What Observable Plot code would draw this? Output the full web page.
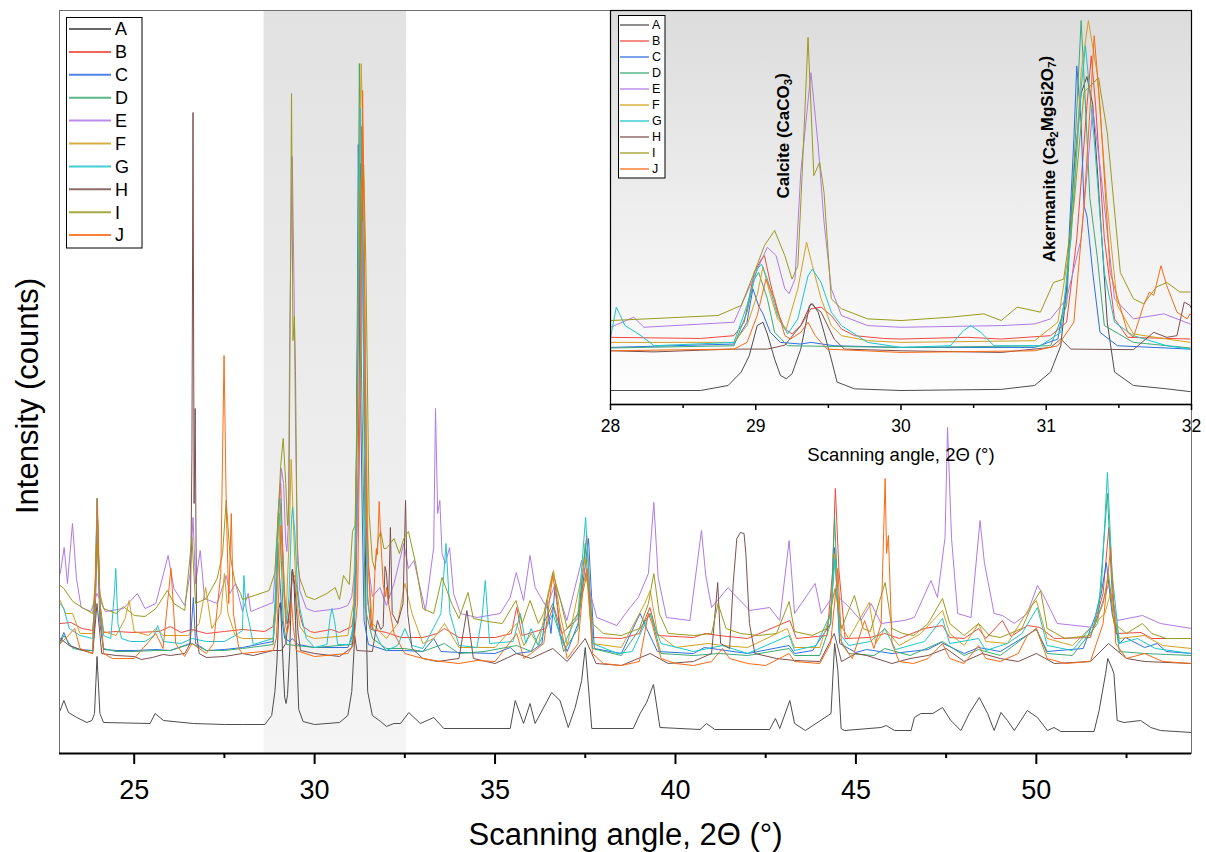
<!DOCTYPE html>
<html><head><meta charset="utf-8">
<script src="https://cdn.jsdelivr.net/npm/d3@7"></script>
<script src="https://cdn.jsdelivr.net/npm/@observablehq/plot@0.6"></script>
<style>
html,body{margin:0;padding:0;background:#fff;}
#wrap{position:relative;width:1206px;height:852px;overflow:hidden;font-family:"Liberation Sans",Arial,sans-serif;}
#wrap svg{position:absolute;left:0;top:0;}
</style></head><body>
<svg width="0" height="0" style="position:absolute"><defs>
<linearGradient id="shadeGrad" x1="0" y1="0" x2="0" y2="1"><stop offset="0" stop-color="#e2e2e2"/><stop offset="1" stop-color="#f5f5f5"/></linearGradient>
<linearGradient id="insetGrad" x1="0" y1="0" x2="0" y2="1"><stop offset="0" stop-color="#dcdcdc"/><stop offset="1" stop-color="#ffffff"/></linearGradient>
</defs></svg>
<div id="wrap"></div>
<script>
// ---------- data ----------
const names = ["A","B","C","D","E","F","G","H","I","J"];
const colors = ["#4d4d4d","#f04a3e","#2f6fe0","#3daa72","#b07ae6","#d4a020","#1cc6cc","#7d4f4f","#9a9a1e","#fb6a14"];
const xLabel = "Scanning angle, 2\u0398 (\u00b0)";
const yLabel = "Intensity (counts)";
const xDomain = [22.93, 54.3];
const yDomain = [0, 743];
const insetXDomain = [28, 32];
const insetYDomain = [4, 708];
const majorTicks = [25, 30, 35, 40, 45, 50];
const minorTicks = [27.5, 32.5, 37.5, 42.5, 47.5, 52.5];
const insetMajor = [28, 29, 30, 31, 32];
const insetMinor = [28.5, 29.5, 30.5, 31.5];
const shadeBands = [[28.6, 32.55]];
const annotations = [
  {label: "Calcite (CaCO_3)", x: 29.19, v: 372},
  {label: "Akermanite (Ca_2MgSi2O_7)", x: 31.02, v: 258}
];

const seriesA = [[22.95,43],[23.05,53],[23.18,41],[23.41,36],[23.69,31],[23.83,33],[23.90,40],[23.97,97],[24.05,40],[24.15,31],[25.44,30],[25.58,40],[25.81,33],[26.64,30],[27.5,29],[28.0,29],
[28.62,29],[28.81,38],[28.90,62],[28.955,91],[29.01,145],[29.05,151],[29.08,130],[29.13,85],[29.17,56],[29.21,50],[29.25,59],[29.31,103],[29.37,181],[29.39,184],[29.43,169],[29.47,133],[29.52,85],[29.56,44],[29.68,32],[30.0,29],[30.69,31],[30.92,38],[31.03,62],[31.10,109],[31.14,210],[31.19,419],[31.24,560],[31.28,590],[31.32,540],[31.35,430],[31.42,151],[31.47,62],[31.6,38],[31.83,32],[31.99,27],
[32.2,30],[32.38,30],[32.61,41],[32.93,30],[33.30,36],[33.58,25],[35.42,25],[35.56,53],[35.79,30],[35.97,50],[36.11,30],[36.57,61],[36.80,53],[37.03,26],[37.22,46],[37.40,73],[37.50,106],[37.68,25],[38.83,25],[39.02,40],[39.20,51],[39.39,69],[39.57,26],[40.68,24],[40.86,30],[41.09,24],[42.61,24],[42.77,35],[42.89,25],[43.17,53],[43.30,30],[43.6,23],[44.31,40],[44.41,110],[44.50,83],[44.59,25],[44.68,23],[45.70,26],[45.84,28],[46.07,23],[46.53,23],[46.62,36],[46.80,40],[47.13,40],[47.40,46],[47.63,33],[47.91,23],[48.14,40],[48.42,56],[48.65,40],[48.83,23],[49.02,41],[49.20,33],[49.39,23],[49.75,43],[50.03,36],[50.31,23],[50.49,26],[50.68,22],[51.60,22],[51.74,43],[51.92,80],[51.98,95],[52.10,85],[52.15,80],[52.24,33],[52.43,31],[52.89,33],[53.17,26],[53.44,23],[54.3,21]];

const seriesB = [[22.95,130],[23.25,131],[23.55,125],[23.85,123],[23.93,160],[23.98,240],[24.05,150],[24.15,121],[24.5,122],[25.0,121],[25.7,122],[26.0,127],[26.3,121],[26.6,124],[27.0,120],[27.5,122],[28.0,124],
[28.62,122],[28.85,127],[28.92,151],[28.99,240],[29.04,264],[29.06,270],[29.10,222],[29.15,169],[29.20,139],[29.25,130],[29.31,145],[29.38,175],[29.45,178],[29.52,163],[29.59,139],[29.68,127],[29.88,122],[30.0,121],[30.46,124],[30.69,121],[31.03,127],[31.14,151],[31.21,300],[31.28,538],[31.31,627],[31.34,538],[31.40,300],[31.47,157],[31.56,124],[31.99,121],
[32.4,116],[33.0,116],[33.4,120],[33.6,125],[34.0,116],[35.0,116],[35.45,120],[35.6,146],[35.75,118],[36.4,125],[36.62,148],[36.85,120],[37.3,135],[37.54,218],[37.7,116],[38.5,115],[39.0,120],[39.29,146],[39.5,118],[40.5,116],[40.82,120],[41.2,118],[42.0,115],[43.17,133],[43.35,115],[44.2,118],[44.35,180],[44.43,265],[44.53,183],[44.7,115],[45.4,116],[45.8,120],[46.2,115],[46.9,125],[47.4,128],[47.6,116],[48.0,115],[48.4,125],[48.6,115],[49.06,133],[49.3,117],[49.75,128],[50.1,126],[50.5,115],[51.5,116],[51.85,160],[52.01,226],[52.2,120],[52.9,121],[53.2,115],[54.3,115]];

const seriesC = [[22.95,112],[23.05,121],[23.2,108],[23.5,104],[23.85,103],[23.92,140],[23.97,230],[24.05,130],[24.15,104],[24.5,103],[25.0,103],[25.6,104],[26.0,103],[26.55,110],[26.64,156],[26.7,110],[27.0,103],[27.5,104],[28.0,106],
[28.85,112],[28.94,151],[28.98,211],[29.02,180],[29.05,166],[29.10,133],[29.17,115],[29.31,112],[29.38,115],[29.54,109],[30.0,106],[30.92,106],[31.08,121],[31.14,211],[31.19,478],[31.21,609],[31.24,508],[31.26,359],[31.28,341],[31.32,240],[31.37,133],[31.49,109],[31.99,103],
[32.5,103],[33.0,102],[33.3,115],[33.5,102],[34.0,101],[35.0,100],[35.42,106],[35.6,100],[36.0,102],[36.3,110],[36.43,153],[36.55,120],[36.67,170],[36.8,120],[37.0,102],[37.3,130],[37.59,215],[37.75,105],[38.5,100],[39.02,140],[39.2,125],[39.5,102],[40.5,100],[40.8,106],[41.2,104],[42.0,100],[43.15,108],[43.3,100],[43.8,103],[44.3,130],[44.41,206],[44.55,110],[45.0,101],[45.3,104],[46.0,100],[47.0,104],[47.36,111],[48.0,100],[48.4,106],[49.0,102],[50.0,124],[50.3,102],[51.3,105],[51.64,138],[51.8,160],[51.94,191],[52.1,140],[52.3,110],[52.47,116],[53.0,106],[53.35,110],[53.6,102],[54.3,100]];

const seriesD = [[22.95,110],[23.05,118],[23.3,105],[23.6,103],[23.85,103],[23.92,150],[23.97,255],[24.05,140],[24.15,105],[24.5,102],[25.0,102],[25.6,103],[26.0,103],[26.6,110],[27.0,103],[27.5,103],[28.0,105],
[28.85,109],[28.94,169],[28.99,228],[29.02,240],[29.08,193],[29.13,133],[29.22,109],[30.0,106],[31.03,109],[31.14,181],[31.20,478],[31.24,690],[31.27,538],[31.30,374],[31.35,270],[31.40,145],[31.6,115],[31.99,105],
[32.5,105],[33.0,102],[33.6,110],[34.0,100],[34.7,102],[35.6,108],[36.0,102],[36.6,150],[36.9,102],[37.3,125],[37.5,210],[37.7,105],[38.5,98],[39.3,140],[39.6,100],[40.5,98],[41.2,100],[42.0,98],[43.15,105],[43.3,98],[44.0,98],[44.3,130],[44.41,236],[44.55,115],[44.8,100],[45.5,98],[45.8,105],[46.5,98],[47.4,112],[48.0,98],[48.4,104],[49.0,98],[50.0,125],[50.3,100],[51.0,98],[51.7,130],[51.97,260],[52.1,160],[52.3,102],[53.0,100],[54.3,98]];

const seriesE = [[22.95,180],[23.06,206],[23.15,170],[23.29,230],[23.4,175],[23.53,146],[23.8,142],[23.97,160],[24.2,142],[24.7,145],[25.09,160],[25.3,145],[25.6,150],[25.94,198],[26.1,165],[26.4,148],[26.55,180],[26.63,236],[26.7,170],[26.83,203],[26.95,155],[27.3,150],[27.55,178],[27.65,160],[27.81,170],[28.0,142],
[28.16,160],[28.23,142],[28.85,151],[28.97,222],[29.08,285],[29.14,270],[29.20,211],[29.23,202],[29.27,228],[29.31,419],[29.38,597],[29.43,466],[29.47,330],[29.52,211],[29.59,163],[29.77,145],[30.0,142],[30.69,145],[30.92,148],[31.03,157],[31.14,193],[31.24,300],[31.32,532],[31.37,431],[31.47,193],[31.6,157],[31.81,166],[31.99,148],
[32.2,170],[32.47,210],[32.6,185],[32.75,193],[33.07,143],[33.30,206],[33.35,345],[33.41,240],[33.47,253],[33.53,200],[33.62,190],[33.74,206],[33.85,160],[34.04,140],[34.5,136],[35.14,140],[35.42,156],[35.59,181],[35.79,153],[35.97,198],[36.11,166],[36.43,146],[36.67,170],[36.99,133],[37.40,193],[37.54,173],[37.82,136],[38.37,128],[38.74,146],[38.97,156],[39.25,180],[39.40,251],[39.52,176],[39.75,136],[40.40,133],[40.72,223],[40.84,178],[41.0,146],[41.46,166],[41.6,160],[42.06,143],[42.61,146],[42.89,133],[43.15,213],[43.30,140],[43.87,170],[44.04,140],[44.41,160],[44.82,146],[45.14,133],[45.42,150],[45.7,130],[46.34,133],[46.62,136],[47.08,173],[47.26,156],[47.47,216],[47.54,326],[47.65,215],[47.82,140],[48.19,136],[48.44,233],[48.56,191],[48.83,140],[49.06,138],[49.39,130],[49.75,140],[50.03,168],[50.17,160],[50.58,130],[51.6,126],[52.01,170],[52.24,133],[52.94,138],[53.44,130],[54.3,125]];

const seriesF = [[22.95,153],[23.1,140],[23.29,140],[23.5,120],[23.85,120],[23.92,160],[23.98,240],[24.05,150],[24.15,122],[24.5,118],[24.75,135],[24.86,153],[25.0,122],[25.4,118],[25.6,125],[25.8,118],[26.5,118],[26.8,130],[26.98,166],[27.15,125],[27.4,140],[27.5,180],[27.6,140],[27.8,118],[28.0,115],
[28.85,115],[28.94,145],[29.01,200],[29.05,250],[29.10,200],[29.15,157],[29.21,139],[29.29,211],[29.35,294],[29.39,252],[29.45,193],[29.52,145],[29.59,127],[29.77,118],[30.0,115],[30.92,118],[31.08,151],[31.17,300],[31.24,597],[31.29,690],[31.35,597],[31.42,359],[31.49,181],[31.6,130],[31.83,121],[31.99,115],
[32.3,130],[32.5,170],[32.7,140],[33.0,110],[33.3,115],[33.6,130],[34.0,106],[35.0,106],[35.6,130],[35.8,108],[36.0,120],[36.2,108],[36.62,183],[36.8,140],[37.0,108],[37.5,195],[37.7,110],[38.5,106],[39.15,150],[39.3,163],[39.5,120],[40.0,106],[40.9,110],[41.3,108],[42.0,106],[43.1,125],[43.3,106],[44.0,106],[44.3,140],[44.42,200],[44.55,130],[44.8,115],[45.37,151],[45.55,110],[45.8,125],[46.2,108],[46.8,120],[47.4,143],[47.6,120],[48.0,108],[48.4,130],[48.6,112],[49.2,110],[49.8,145],[50.0,153],[50.3,115],[51.0,108],[51.9,140],[52.05,160],[52.3,115],[53.0,118],[53.5,108],[54.3,105]];

const seriesG = [[22.95,150],[23.05,145],[23.2,125],[23.5,118],[23.85,115],[23.92,170],[23.97,255],[24.05,150],[24.15,118],[24.35,115],[24.45,160],[24.49,185],[24.55,130],[24.65,115],[24.9,112],[25.3,112],[25.55,118],[25.65,128],[25.8,112],[26.3,110],[26.6,115],[27.0,112],[27.5,112],[27.8,118],[28.0,123],
[28.04,178],[28.1,145],[28.21,127],[28.30,109],[28.85,115],[28.94,181],[29.01,246],[29.04,255],[29.08,228],[29.15,163],[29.22,130],[29.29,157],[29.36,234],[29.39,246],[29.45,222],[29.52,169],[29.59,145],[29.77,115],[30.0,106],[30.34,109],[30.43,136],[30.48,145],[30.55,133],[30.64,109],[30.96,109],[31.10,133],[31.17,300],[31.24,568],[31.27,645],[31.33,478],[31.40,240],[31.47,151],[31.6,127],[31.83,109],[31.99,103],
[32.3,108],[32.5,125],[32.7,108],[33.0,105],[33.5,140],[33.64,210],[33.75,140],[34.0,108],[34.5,106],[34.65,140],[34.73,173],[34.85,110],[35.5,112],[35.7,140],[35.85,110],[36.0,125],[36.2,108],[36.6,140],[36.9,108],[37.3,140],[37.51,236],[37.7,110],[38.4,100],[38.8,102],[39.29,140],[39.6,110],[40.5,102],[41.3,108],[42.0,100],[43.15,118],[43.3,103],[43.9,108],[44.3,140],[44.42,195],[44.55,120],[44.8,108],[45.4,112],[45.8,125],[46.1,104],[46.9,112],[47.4,135],[47.6,110],[48.4,115],[48.6,103],[49.2,110],[49.6,120],[50.03,146],[50.3,108],[51.0,103],[51.6,130],[51.8,165],[51.97,281],[52.1,180],[52.3,110],[52.8,115],[53.3,105],[54.3,100]];

const seriesH = [[22.95,115],[23.2,108],[23.5,104],[23.85,100],[23.97,150],[24.1,100],[24.5,98],[25.0,97],[25.2,94],[25.5,96],[25.8,99],[26.0,98],[26.4,100],[26.55,110],[26.6,300],[26.63,641],[26.66,250],[26.69,345],[26.73,120],[26.8,100],[27.0,96],[27.5,97],[28.0,100],
[28.3,98],[28.62,101],[28.85,103],[29.08,103],[29.2,110],[29.31,145],[29.38,184],[29.45,169],[29.54,121],[29.61,103],[30.0,100],[30.69,97],[31.03,106],[31.10,121],[31.17,103],[31.6,102],[31.74,133],[31.83,124],[31.90,127],[31.95,187],[31.99,181],
[32.05,150],[32.1,226],[32.15,140],[32.3,130],[32.45,150],[32.52,253],[32.58,140],[32.7,105],[33.0,95],[33.4,92],[34.0,95],[34.22,143],[34.4,95],[35.0,90],[35.6,100],[36.0,95],[36.6,105],[37.0,92],[37.5,115],[37.8,90],[38.5,88],[39.3,100],[39.8,90],[40.5,92],[41.0,100],[41.17,171],[41.25,110],[41.5,105],[41.6,170],[41.7,215],[41.8,221],[41.9,220],[41.95,200],[42.05,130],[42.2,100],[42.8,95],[43.3,93],[44.0,92],[44.4,120],[44.6,92],[45.0,100],[45.3,98],[46.0,90],[46.5,95],[47.0,98],[47.5,105],[48.0,92],[48.5,100],[49.0,95],[49.5,92],[50.0,100],[50.5,90],[51.5,92],[52.0,110],[52.5,95],[53.0,92],[54.3,90]];

const seriesI = [[22.95,168],[23.05,165],[23.3,152],[23.6,145],[23.85,140],[23.92,170],[23.97,210],[24.05,160],[24.15,145],[24.5,140],[24.7,147],[25.0,138],[25.3,137],[25.6,145],[25.92,163],[26.1,150],[26.4,143],[26.6,216],[26.7,150],[27.0,155],[27.3,175],[27.45,200],[27.55,253],[27.65,200],[27.8,170],[27.95,160],[28.0,154],
[28.74,163],[28.90,181],[28.99,240],[29.06,288],[29.13,315],[29.20,270],[29.25,228],[29.29,252],[29.32,419],[29.36,660],[29.40,413],[29.44,437],[29.47,383],[29.52,193],[29.59,175],[29.77,157],[30.0,154],[30.34,160],[30.57,166],[30.69,154],[30.80,178],[30.96,169],[31.05,222],[31.12,228],[31.19,359],[31.26,562],[31.33,580],[31.36,588],[31.42,490],[31.51,240],[31.6,193],[31.67,184],[31.76,214],[31.83,222],[31.92,205],[31.99,205],
[32.2,215],[32.35,200],[32.47,215],[32.6,222],[32.8,190],[33.0,145],[33.3,140],[33.53,176],[33.8,150],[34.0,135],[34.25,161],[34.4,135],[34.8,132],[35.2,130],[35.58,153],[35.75,130],[35.97,153],[36.2,130],[36.35,140],[36.6,181],[36.8,155],[37.0,125],[37.3,140],[37.55,180],[37.7,130],[38.0,120],[38.5,118],[39.0,125],[39.25,150],[39.4,180],[39.55,140],[39.8,120],[40.5,118],[41.0,120],[41.18,150],[41.4,125],[41.8,120],[42.3,118],[42.8,120],[43.15,152],[43.3,122],[43.8,118],[44.2,125],[44.42,165],[44.6,125],[44.96,158],[45.2,125],[45.4,122],[45.81,171],[46.0,125],[46.3,120],[46.6,118],[47.0,130],[47.4,155],[47.6,130],[48.0,118],[48.4,130],[48.7,118],[49.0,116],[49.6,125],[49.9,150],[50.12,163],[50.3,125],[50.8,115],[51.5,118],[51.85,150],[52.0,180],[52.15,130],[52.5,120],[52.94,130],[53.2,120],[53.6,115],[54.3,115]];

const seriesJ = [[22.95,110],[23.1,115],[23.35,125],[23.5,105],[23.85,100],[23.92,170],[23.98,255],[24.05,150],[24.15,100],[24.4,95],[25.0,95],[25.6,120],[25.8,105],[25.95,160],[26.02,185],[26.15,110],[26.4,97],[26.6,110],[27.0,100],[27.2,110],[27.4,180],[27.49,398],[27.55,250],[27.62,150],[27.69,240],[27.75,140],[27.9,105],[28.0,100],
[28.85,103],[28.94,115],[29.01,163],[29.07,228],[29.13,193],[29.20,127],[29.24,121],[29.31,133],[29.36,151],[29.41,127],[29.49,103],[30.0,97],[30.92,100],[31.08,109],[31.19,151],[31.26,359],[31.31,568],[31.33,663],[31.37,538],[31.44,240],[31.56,133],[31.6,124],[31.67,181],[31.71,205],[31.74,199],[31.79,252],[31.83,216],[31.90,169],[31.97,157],[31.99,166],
[32.05,150],[32.2,120],[32.5,100],[33.0,95],[33.5,92],[34.0,90],[34.5,93],[35.0,92],[35.6,120],[35.8,95],[36.0,100],[36.35,110],[36.6,178],[36.8,130],[37.0,95],[37.3,110],[37.45,170],[37.55,185],[37.7,100],[38.0,90],[38.5,88],[39.0,92],[39.25,140],[39.35,130],[39.6,95],[40.0,90],[40.5,88],[41.0,92],[41.3,105],[41.5,95],[42.0,90],[42.5,88],[43.15,100],[43.3,92],[44.0,90],[44.3,110],[44.5,185],[44.6,110],[44.9,95],[45.24,133],[45.5,105],[45.7,130],[45.81,275],[45.85,200],[45.9,218],[46.0,110],[46.2,92],[46.6,90],[47.0,95],[47.4,110],[47.6,95],[48.0,90],[48.4,108],[48.6,95],[49.0,92],[49.5,100],[49.75,118],[50.0,125],[50.3,95],[50.8,90],[51.5,92],[51.85,130],[52.06,206],[52.2,110],[52.5,95],[53.0,100],[53.5,92],[54.3,90]];

// ---------- build ----------
const seriesList = [seriesA, seriesB, seriesC, seriesD, seriesE, seriesF, seriesG, seriesH, seriesI, seriesJ];
const rows = names.flatMap((n, i) => seriesList[i].map(([x, v]) => ({name: n, x, v})));
const font = '"Liberation Sans", Arial, sans-serif';
const wrap = document.getElementById("wrap");

const main = Plot.plot({
  width: 1206, height: 852,
  marginLeft: 59, marginRight: 15, marginTop: 10, marginBottom: 99,
  style: {fontFamily: font, color: "#000", background: "transparent"},
  x: {domain: xDomain},
  y: {domain: yDomain, axis: null},
  color: {domain: names, range: colors},
  marks: [
    Plot.rect(shadeBands, {x1: d => d[0], x2: d => d[1], y1: yDomain[0], y2: yDomain[1], fill: "url(#shadeGrad)"}),
    Plot.line(rows, {x: "x", y: "v", z: "name", stroke: "name", strokeWidth: 1}),
    Plot.frame({stroke: "#707070", strokeWidth: 1}),
    Plot.ruleY([yDomain[0]], {stroke: "#000", strokeWidth: 2}),
    Plot.axisX(majorTicks, {tickSize: 11, tickPadding: 15, fontSize: 27, strokeWidth: 2, label: null, tickFormat: "d"}),
    Plot.axisX(minorTicks, {tickSize: 5, tickFormat: () => "", strokeWidth: 2, label: null}),
    Plot.text([xLabel], {frameAnchor: "bottom", dy: 91, fontSize: 31}),
    Plot.text([yLabel], {frameAnchor: "left", rotate: -90, textAnchor: "middle", dx: -31, dy: 14, fontSize: 31})
  ]
});
wrap.appendChild(main);

const insetRows = rows.filter(d => d.x >= 27.9 && d.x <= 32.1);
const inset = Plot.plot({
  width: 611, height: 470,
  marginLeft: 15, marginRight: 15, marginTop: 10, marginBottom: 66,
  style: {fontFamily: font, color: "#000", background: "transparent", overflow: "visible"},
  x: {domain: insetXDomain},
  y: {domain: insetYDomain, axis: null},
  color: {domain: names, range: colors},
  marks: [
    Plot.frame({fill: "url(#insetGrad)", stroke: "none"}),
    Plot.line(insetRows, {x: "x", y: "v", z: "name", stroke: "name", strokeWidth: 1, clip: true}),
    Plot.frame({stroke: "#000", strokeWidth: 1.2}),
    Plot.ruleY([insetYDomain[0]], {stroke: "#000", strokeWidth: 1.6}),
    Plot.axisX(insetMajor, {tickSize: 6, tickPadding: 9, fontSize: 17.5, strokeWidth: 1.5, label: null, tickFormat: "d"}),
    Plot.axisX(insetMinor, {tickSize: 4, tickFormat: () => "", strokeWidth: 1.5, label: null}),
    Plot.text(annotations, {x: "x", y: "v", text: "label", rotate: -90, textAnchor: "start", fontSize: 17, fontWeight: "bold"}),
    Plot.text([xLabel], {frameAnchor: "bottom", dy: 56, fontSize: 18.5})
  ]
});
inset.style.left = "595px";
inset.style.top = "0px";
wrap.appendChild(inset);

// subscripts in annotations
inset.querySelectorAll("text").forEach(t => {
  const s = t.textContent;
  if (!s.includes("_")) return;
  const parts = s.split(/_(\d)/);
  t.textContent = "";
  parts.forEach((p, i) => {
    if (!p) return;
    const ts = document.createElementNS("http://www.w3.org/2000/svg", "tspan");
    ts.textContent = p;
    if (i % 2 === 1) { ts.setAttribute("font-size", "0.68em"); ts.setAttribute("dy", "0.3em"); }
    else if (i > 0) { ts.setAttribute("dy", "-0.3em"); }
    t.appendChild(ts);
  });
});

// legends
const leg = d3.select(wrap).append("svg").attr("width", 1206).attr("height", 852)
  .style("pointer-events", "none").attr("font-family", font);
function legend(x0, y0, w, h, firstY, step, lx1, lx2, tx, fs, lw) {
  const g = leg.append("g");
  g.append("rect").attr("x", x0).attr("y", y0).attr("width", w).attr("height", h)
    .attr("fill", "#fff").attr("stroke", "#000").attr("stroke-width", 1);
  names.forEach((n, i) => {
    const y = firstY + i * step;
    g.append("line").attr("x1", lx1).attr("x2", lx2).attr("y1", y).attr("y2", y)
      .attr("stroke", colors[i]).attr("stroke-width", lw).attr("stroke-opacity", 0.85);
    g.append("text").attr("x", tx).attr("y", y).attr("dy", "0.35em")
      .attr("font-size", fs).attr("fill", "#000").text(n);
  });
}
legend(66.5, 17.5, 75.5, 230.5, 29, 22.9, 69, 111, 115, 18, 2);
legend(618.5, 15.5, 46.5, 162.5, 25, 16, 620, 649, 652, 12.5, 1.5);
</script>
</body></html>
